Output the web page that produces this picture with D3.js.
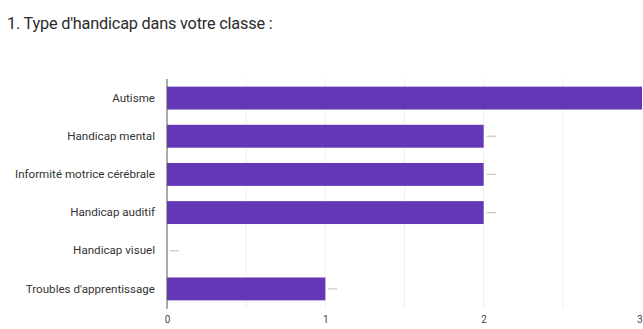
<!DOCTYPE html>
<html>
<head>
<meta charset="utf-8">
<script src="https://cdn.jsdelivr.net/npm/d3@7"></script>
<style>
  html, body { margin: 0; padding: 0; background: #fff; }
  svg { display: block; }
</style>
</head>
<body>
<svg id="chart" width="643" height="329"></svg>
<script>
// Survey question and answer counts
const title = "1. Type d'handicap dans votre classe :";
const categories = [
  "Autisme",
  "Handicap mental",
  "Informité motrice cérébrale",
  "Handicap auditif",
  "Handicap visuel",
  "Troubles d'apprentissage"
];
const counts = [3, 2, 2, 2, 0, 1];
const tickValues = [0, 1, 2, 3];
const gridValues = [0.5, 1, 1.5, 2, 2.5];

const svg = d3.select("#chart");
const W = 643, H = 329;
const margin = { left: 167, right: 1, top: 79, bottom: 21 };

svg.append("rect").attr("width", W).attr("height", H).attr("fill", "#fff");

svg.append("text")
  .attr("x", 7).attr("y", 29)
  .attr("font-family", "Roboto, 'Open Sans', sans-serif")
  .attr("font-size", 16.3)
  .attr("letter-spacing", -0.2)
  .attr("fill", "#2b2b2b")
  .text(title);

const x = d3.scaleLinear().domain([0, 3]).range([margin.left, W - margin.right]);
const y = d3.scaleBand().domain(categories)
  .range([margin.top, H - margin.bottom])
  .paddingInner(0.4).paddingOuter(0.2);

// vertical gridlines
svg.append("g").selectAll("line").data(gridValues).join("line")
  .attr("x1", d => x(d)).attr("x2", d => x(d))
  .attr("y1", margin.top).attr("y2", H - margin.bottom)
  .attr("stroke", "#efefef").attr("stroke-width", 1);

// bars
const rows = categories.map((c, i) => ({ c, v: counts[i] }));
svg.append("g").selectAll("rect").data(rows).join("rect")
  .attr("x", x(0))
  .attr("y", d => y(d.c))
  .attr("width", d => x(d.v) - x(0))
  .attr("height", y.bandwidth())
  .attr("fill", "#6437b6");

// small value markers at the end of each bar
svg.append("g").selectAll("line").data(rows).join("line")
  .attr("x1", d => x(d.v) + 3).attr("x2", d => x(d.v) + 12)
  .attr("y1", d => y(d.c) + y.bandwidth() / 2)
  .attr("y2", d => y(d.c) + y.bandwidth() / 2)
  .attr("stroke", "#c4c4c4").attr("stroke-width", 1.2);

// left axis line
svg.append("line")
  .attr("x1", x(0)).attr("x2", x(0))
  .attr("y1", margin.top).attr("y2", H - margin.bottom + 1)
  .attr("stroke", "#555").attr("stroke-width", 1);

// category labels
const yAxis = d3.axisLeft(y).tickSize(0).tickPadding(12);
const gy = svg.append("g").attr("transform", `translate(${x(0)},0)`).call(yAxis);
gy.select(".domain").remove();
gy.selectAll("text")
  .attr("font-family", "Roboto, 'Open Sans', sans-serif")
  .attr("font-size", 11.6)
  .attr("fill", "#333");

// value axis labels
const xAxis = d3.axisBottom(x).tickValues(tickValues).tickSize(0).tickPadding(8).tickFormat(d3.format("d"));
const gx = svg.append("g").attr("transform", `translate(0,${H - margin.bottom})`).call(xAxis);
gx.select(".domain").remove();
gx.selectAll("text")
  .attr("font-family", "Roboto, 'Open Sans', sans-serif")
  .attr("font-size", 10)
  .attr("fill", "#444")
  .attr("text-anchor", d => d === 3 ? "end" : "middle");
</script>
</body>
</html>
